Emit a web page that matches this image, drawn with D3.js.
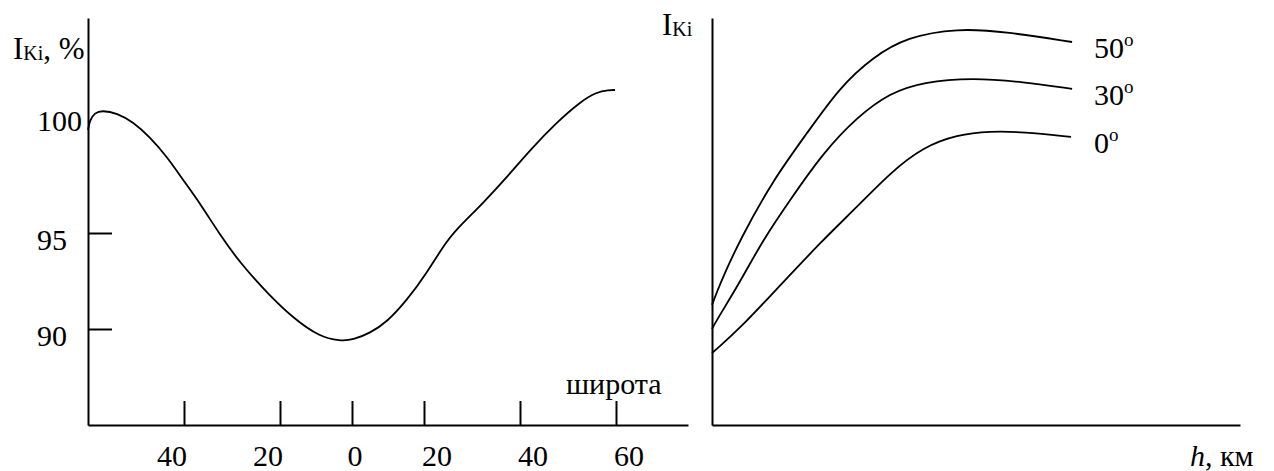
<!DOCTYPE html>
<html>
<head>
<meta charset="utf-8">
<script src="https://cdn.jsdelivr.net/npm/d3@7"></script>
<style>
  body { margin: 0; background: #fff; }
</style>
</head>
<body>
<script>
// left chart: latitude (south negative) vs I_Ki, %
const latTicks = [-40, -20, 0, 20, 40, 60]
const valTicks = [90, 95]
const valLabels = [90, 95, 100]

const lat = [-60, -59.6, -58.6, -57.1, -53.96, -50.6, -47.1, -43.5, -40.2, -36.7, -32.5, -28.3, -22.7, -16.4,
  -8.9, -3.33, 0.28, 5, 9.72, 15.3, 20.6, 24.8, 28.1, 32.3, 37.3, 42.1, 47.7, 52.5, 56.0, 58.5, 59.8]
const ik = [99.33, 99.75, 100.05, 100.15, 100.04, 99.66, 99.03, 98.19, 97.23, 96.26, 94.9, 93.44, 91.88, 90.57,
  89.58, 89.38, 89.43, 89.79, 90.36, 91.51, 92.92, 94.64, 95.42, 96.26, 97.35, 98.49, 99.66, 100.5, 100.92, 101.0, 101.0]

// right chart: h (no scale given) vs I_Ki for three latitudes
const h50 = [0, 1.0, 2.1, 5.3, 11.55, 18.0, 24.2, 30.5, 36.9, 46.4, 55.9, 68.2]
const v50 = [29.5, 32.9, 36.4, 45.5, 60.2, 71.7, 83.0, 90.4, 95.3, 97.5, 96.6, 94.1]
const h30 = [0, 1.0, 5.3, 9.66, 14.8, 21.0, 27.5, 33.7, 40.0, 49.4, 58.9, 68.2]
const v30 = [23.6, 26.0, 35.1, 45.5, 55.3, 66.8, 75.7, 81.6, 84.3, 85.3, 84.3, 82.6]
const h0 = [0, 1.0, 5.3, 11.55, 21.0, 27.5, 33.7, 40.0, 46.4, 52.7, 58.9, 68.0]
const v0 = [17.7, 18.8, 23.8, 32.4, 45.5, 53.6, 61.9, 68.3, 71.3, 72.2, 72.0, 70.8]
const seriesNames = ["50", "30", "0"]

const width = 1274
const height = 471
const font = "'Liberation Serif', Tinos, 'Times New Roman', 'DejaVu Serif', serif"

const svg = d3.select("body").append("svg")
    .attr("width", width)
    .attr("height", height)
    .attr("xmlns", "http://www.w3.org/2000/svg")
    .attr("font-family", font)

// the original axis is drawn by hand, so the spacing is uneven
const x = d3.scaleLinear()
    .domain([-60, -40, -20, 0, 20, 40, 60, 75])
    .range([88, 184, 280, 352, 424, 520, 616, 688])
const y = d3.scaleLinear()
    .domain([85, 90, 95, 100, 104])
    .range([425, 329, 233, 114, 18])

const styleAxis = g => {
    g.select(".domain").attr("stroke", "#000").attr("stroke-width", 2)
    g.selectAll(".tick line").attr("stroke", "#000").attr("stroke-width", 2)
}

svg.append("g")
    .attr("transform", "translate(0,425)")
    .call(d3.axisBottom(x).tickValues(latTicks).tickSizeInner(-24).tickSizeOuter(0).tickFormat(""))
    .call(styleAxis)

svg.append("g")
    .attr("transform", "translate(88,0)")
    .call(d3.axisLeft(y).tickValues(valTicks).tickSizeInner(-24).tickSizeOuter(0).tickFormat(""))
    .call(styleAxis)

svg.append("g")
    .attr("font-size", 30)
    .selectAll("text")
    .data(latTicks)
    .join("text")
    .attr("x", d => x(d) + (d < 0 ? -12 : d === 0 ? 3 : 13))
    .attr("y", 466)
    .attr("text-anchor", "middle")
    .text(d => Math.abs(d))

svg.append("g")
    .attr("font-size", 30)
    .selectAll("text")
    .data(valLabels)
    .join("text")
    .attr("x", 37)
    .attr("y", d => y(d) + 17)
    .text(d => d)

const line = d3.line().curve(d3.curveBasis)

svg.append("path")
    .attr("d", line(lat.map((d, i) => [x(d), y(ik[i])])))
    .attr("fill", "none")
    .attr("stroke", "#000")
    .attr("stroke-width", 1.8)

const t1 = svg.append("text").attr("x", 13).attr("y", 59).attr("font-size", 31)
t1.append("tspan").text("I")
t1.append("tspan").attr("font-size", 20).attr("dy", 1).text("Ki")
t1.append("tspan").attr("dy", -1).text(", %")

svg.append("text")
    .attr("x", 566)
    .attr("y", 394)
    .attr("font-size", 30)
    .text("широта")

// right chart
const hx = d3.scaleLinear().domain([0, 100]).range([712, 1240])
const hy = d3.scaleLinear().domain([0, 100]).range([425, 18])

svg.append("g")
    .attr("transform", "translate(0,425)")
    .call(d3.axisBottom(hx).tickValues([]).tickSizeOuter(0))
    .call(styleAxis)

svg.append("g")
    .attr("transform", "translate(712,0)")
    .call(d3.axisLeft(hy).tickValues([]).tickSizeOuter(0))
    .call(styleAxis)

const series = [[h50, v50], [h30, v30], [h0, v0]]

svg.append("g")
    .selectAll("path")
    .data(series)
    .join("path")
    .attr("d", ([hs, vs]) => line(hs.map((d, i) => [hx(d), hy(vs[i])])))
    .attr("fill", "none")
    .attr("stroke", "#000")
    .attr("stroke-width", 1.8)

const lab = svg.append("g")
    .attr("font-size", 30)
    .selectAll("text")
    .data(series)
    .join("text")
    .attr("x", 1094)
    .attr("y", ([hs, vs]) => hy(vs[vs.length - 1]) + 16)

lab.append("tspan").text((d, i) => seriesNames[i])
lab.append("tspan").attr("font-size", 19).attr("dy", -12).text("o")

const t2 = svg.append("text").attr("x", 662).attr("y", 35).attr("font-size", 31)
t2.append("tspan").text("I")
t2.append("tspan").attr("font-size", 20).attr("dy", 1).text("Ki")

const t3 = svg.append("text").attr("x", 1190).attr("y", 466).attr("font-size", 30)
t3.append("tspan").attr("font-style", "italic").text("h")
t3.append("tspan").text(", км")
</script>
</body>
</html>
